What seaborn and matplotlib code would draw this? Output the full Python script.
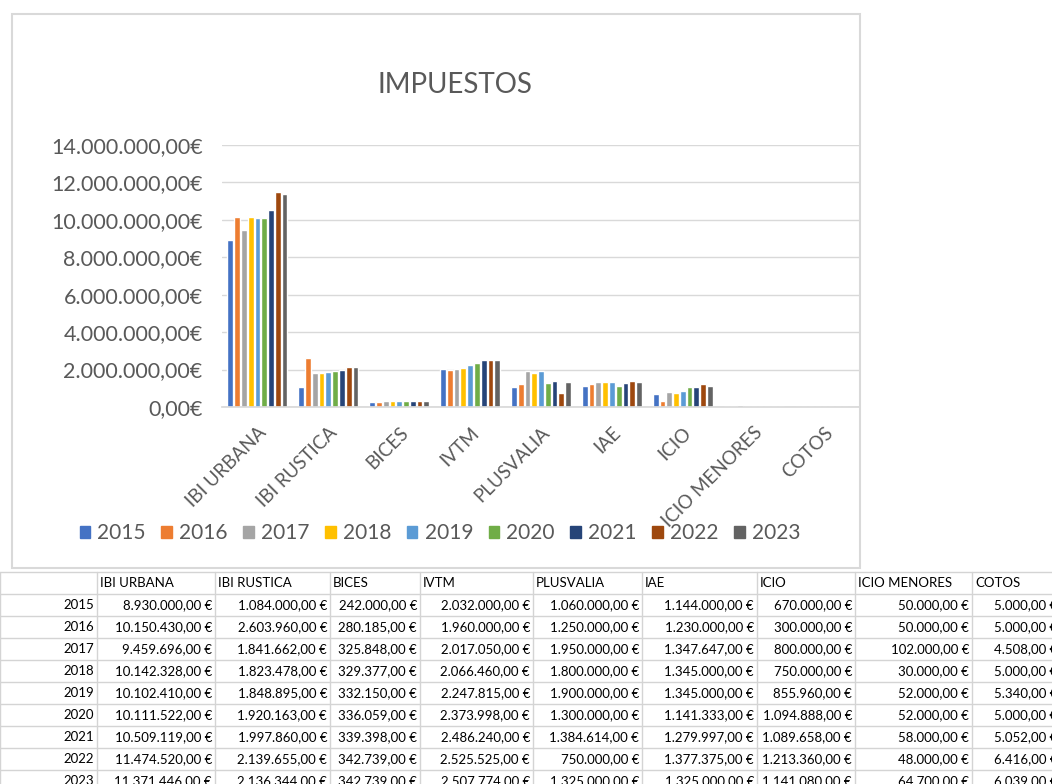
import matplotlib
matplotlib.use("Agg")
import matplotlib.pyplot as plt
import seaborn as sns
import pandas as pd
import numpy as np
from matplotlib.patches import Rectangle
from matplotlib.lines import Line2D

categories = ["IBI URBANA", "IBI RUSTICA", "BICES", "IVTM", "PLUSVALIA", "IAE", "ICIO", "ICIO MENORES", "COTOS"]
years = ["2015", "2016", "2017", "2018", "2019", "2020", "2021", "2022", "2023"]

ibi_urbana = [8930000, 10150430, 9459696, 10142328, 10102410, 10111522, 10509119, 11474520, 11371446]
ibi_rustica = [1084000, 2603960, 1841662, 1823478, 1848895, 1920163, 1997860, 2139655, 2136344]
bices = [242000, 280185, 325848, 329377, 332150, 336059, 339398, 342739, 342739]
ivtm = [2032000, 1960000, 2017050, 2066460, 2247815, 2373998, 2486240, 2525525, 2507774]
plusvalia = [1060000, 1250000, 1950000, 1800000, 1900000, 1300000, 1384614, 750000, 1325000]
iae = [1144000, 1230000, 1347647, 1345000, 1345000, 1141333, 1279997, 1377375, 1325000]
icio = [670000, 300000, 800000, 750000, 855960, 1094888, 1089658, 1213360, 1141080]
icio_menores = [50000, 50000, 102000, 30000, 52000, 52000, 58000, 48000, 64700]
cotos = [5000, 5000, 4508, 5000, 5340, 5000, 5052, 6416, 6039]

series = [ibi_urbana, ibi_rustica, bices, ivtm, plusvalia, iae, icio, icio_menores, cotos]

colors = ["#4472C4", "#ED7D31", "#A5A5A5", "#FFC000", "#5B9BD5",
          "#70AD47", "#264478", "#9E480E", "#636363"]

rows = []
for cat, vals in zip(categories, series):
    for y, v in zip(years, vals):
        rows.append({"cat": cat, "year": y, "val": v})
df = pd.DataFrame(rows)

sns.set_theme(style="white")
FONT = ["Lato", "DejaVu Sans"]
plt.rcParams["font.family"] = FONT
TXT = "#595959"

W, H = 1052, 784
fig = plt.figure(figsize=(W / 100, H / 100), dpi=100)

def fx(px):
    return px / W

def fy(py):
    return 1 - py / H

# chart border
fig.patches.append(Rectangle((fx(12), fy(568)), fx(860) - fx(12), fy(14) - fy(568),
                             transform=fig.transFigure, fill=False, edgecolor="#D9D9D9", lw=1.5))

ax = fig.add_axes([fx(222), fy(407), fx(860) - fx(222), fy(145) - fy(407)])
sns.barplot(data=df, x="cat", y="val", hue="year", palette=colors, ax=ax,
            width=0.86, gap=0.15, saturation=1, errorbar=None, legend=False)
ax.set_ylim(0, 14e6)
ax.set_yticks(np.arange(0, 14e6 + 1, 2e6))

def eur(v):
    s = f"{v:,.2f}".replace(",", "X").replace(".", ",").replace("X", ".")
    return s

ax.set_yticklabels([eur(t) + "€" for t in ax.get_yticks()], color=TXT, fontsize=15.5)
ax.yaxis.grid(True, color="#D9D9D9", lw=1)
ax.set_axisbelow(True)
for s in ["top", "right", "left"]:
    ax.spines[s].set_visible(False)
ax.spines["bottom"].set_color("#D9D9D9")
ax.tick_params(axis="both", length=0)
ax.tick_params(axis="y", pad=14)
ax.set_xlabel("")
ax.set_ylabel("")
ax.set_xticks(range(len(categories)))
ax.set_xticklabels(categories, rotation=45, ha="right", rotation_mode="anchor",
                   color=TXT, fontsize=13.5)
ax.tick_params(axis="x", pad=12)

fig.text(fx(455), fy(85), "IMPUESTOS", ha="center", va="center", fontsize=20, color=TXT)

handles = [Rectangle((0, 0), 1, 1, color=c) for c in colors]
fig.legend(handles, years, loc="center", bbox_to_anchor=(fx(440), fy(533)), ncol=9,
           frameon=False, fontsize=15, handlelength=0.5, handleheight=0.5,
           handletextpad=0.35, columnspacing=0.75, labelcolor=TXT)

# table below
col_edges = [0, 97, 215, 330, 420, 533, 642, 757, 855, 972, 1060]
row_top = 572
row_h = 22
grid_c = "#D4D4D4"
n_rows = 1 + len(years)
for i in range(n_rows + 1):
    yy = row_top + i * row_h
    fig.add_artist(Line2D([0, 1], [fy(yy), fy(yy)], transform=fig.transFigure, color=grid_c, lw=1))
for xx in col_edges:
    fig.add_artist(Line2D([fx(xx), fx(xx)], [fy(row_top), 0], transform=fig.transFigure, color=grid_c, lw=1))

tfs = 9.5
for j, cat in enumerate(categories):
    fig.text(fx(col_edges[j + 1] + 3), fy(row_top + row_h / 2), cat, ha="left", va="center",
             fontsize=tfs, color="black")
for i, yr in enumerate(years):
    yc = fy(row_top + (i + 1.5) * row_h)
    fig.text(fx(col_edges[1] - 3), yc, yr, ha="right", va="center", fontsize=tfs, color="black")
    for j, vals in enumerate(series):
        fig.text(fx(col_edges[j + 2] - 3), yc, eur(vals[i]) + " €", ha="right", va="center",
                 fontsize=tfs, color="black")

fig.savefig("out.png", dpi=100)
